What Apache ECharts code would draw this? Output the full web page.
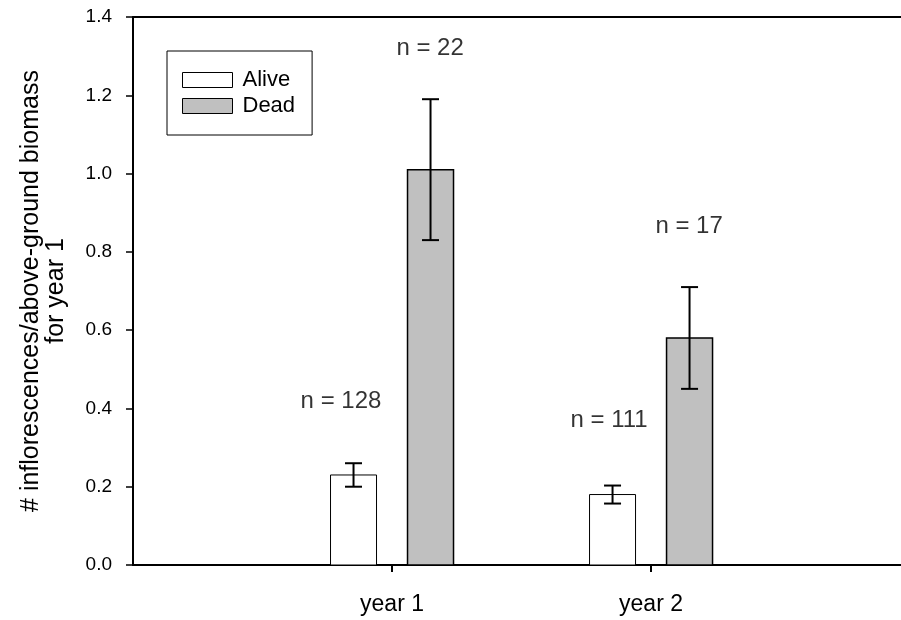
<!DOCTYPE html>
<html>
<head>
<meta charset="utf-8">
<script src="https://cdn.jsdelivr.net/npm/echarts@6/dist/echarts.min.js"></script>
<style>html,body{margin:0;padding:0;background:#fff}#c{width:901px;height:620px}</style>
</head>
<body>
<div id="c"></div>
<script>
var groupX = [1, 2];
var groupLabels = ['year 1', 'year 2'];
var aliveMean = [0.23, 0.18];
var aliveErr = [0.03, 0.023];
var deadMean = [1.01, 0.58];
var deadErr = [0.18, 0.13];
var nText = ['n = 128', 'n = 22', 'n = 111', 'n = 17'];
var nX = [0.803, 1.147, 1.838, 2.147];
var nY = [0.419, 1.32, 0.370, 0.864];
var yTicks = [0, 0.2, 0.4, 0.6, 0.8, 1.0, 1.2, 1.4];
var yTitle = '# inflorescences/above-ground biomass\nfor year 1';

var FONT = 'Liberation Sans, Arial, Helvetica, sans-serif';
var BAR_W = 46, OFFSET = 38.5, CAP = 17;
var DEAD_FILL = '#c0c0c0';

function makeRender(offset, fill, bw) {
  return function (params, api) {
    var x = api.value(0), m = api.value(1), e = api.value(2);
    var base = api.coord([x, 0]);
    var top = api.coord([x, m]);
    var hi = api.coord([x, m + e]);
    var lo = api.coord([x, m - e]);
    var cx = base[0] + offset;
    return {
      type: 'group',
      children: [
        {type: 'rect', shape: {x: cx - BAR_W / 2, y: top[1], width: BAR_W, height: base[1] - top[1]},
         style: {fill: fill, stroke: '#000', lineWidth: bw}},
        {type: 'line', shape: {x1: cx, y1: hi[1], x2: cx, y2: lo[1]}, style: {stroke: '#000', lineWidth: 2}},
        {type: 'line', shape: {x1: cx - CAP / 2, y1: hi[1], x2: cx + CAP / 2, y2: hi[1]}, style: {stroke: '#000', lineWidth: 2}},
        {type: 'line', shape: {x1: cx - CAP / 2, y1: lo[1], x2: cx + CAP / 2, y2: lo[1]}, style: {stroke: '#000', lineWidth: 2}}
      ]
    };
  };
}

var chart = echarts.init(document.getElementById('c'), null, {renderer: 'canvas'});
var xMax = 2.965;
chart.setOption({
  animation: false,
  backgroundColor: '#fff',
  grid: {left: 133, right: 0, top: 17, bottom: 55},
  graphic: [{
    type: 'text', x: 44, y: 291, rotation: Math.PI / 2,
    style: {text: yTitle, align: 'center', verticalAlign: 'middle',
      font: '25px ' + FONT, lineHeight: 25, fill: '#000'}
  }],
  legend: {
    orient: 'vertical', left: 167, top: 51,
    padding: [18, 17, 18, 15], itemGap: 4, itemWidth: 50, itemHeight: 15,
    borderColor: '#000', borderWidth: 1,
    textStyle: {fontFamily: FONT, fontSize: 22, lineHeight: 22, color: '#000', padding: [0, 0, 0, 5]},
    data: [
      {name: 'Alive', icon: 'rect', itemStyle: {color: '#fff', borderColor: '#000', borderWidth: 1}},
      {name: 'Dead', icon: 'rect', itemStyle: {color: DEAD_FILL, borderColor: '#000', borderWidth: 1}}
    ]
  },
  xAxis: [{
    type: 'value', min: 0, max: xMax, interval: 1,
    axisLine: {lineStyle: {color: '#000', width: 2}},
    axisTick: {show: true, length: 7, lineStyle: {color: '#000', width: 2}},
    splitLine: {show: false},
    axisLabel: {
      margin: 28, color: '#000', fontFamily: FONT, fontSize: 23,
      showMinLabel: false, showMaxLabel: false,
      formatter: function (v) { var i = groupX.indexOf(v); return i >= 0 ? groupLabels[i] : ''; }
    }
  }, {
    type: 'value', position: 'top', min: 0, max: xMax,
    axisLine: {show: true, lineStyle: {color: '#000', width: 2}},
    axisTick: {show: false}, axisLabel: {show: false}, splitLine: {show: false}
  }],
  yAxis: {
    type: 'value', min: yTicks[0], max: yTicks[yTicks.length - 1], interval: 0.2,
    axisLine: {show: true, lineStyle: {color: '#000', width: 2}},
    axisTick: {show: true, length: 7, lineStyle: {color: '#000', width: 1.5}},
    splitLine: {show: false},
    axisLabel: {margin: 21, color: '#000', fontFamily: FONT, fontSize: 19,
      formatter: function (v) { return v.toFixed(1); }}
  },
  series: [
    {
      name: 'Alive', type: 'custom', xAxisIndex: 0,
      itemStyle: {color: '#fff', borderColor: '#000'},
      renderItem: makeRender(-OFFSET, '#fff', 1),
      data: groupX.map(function (x, i) { return [x, aliveMean[i], aliveErr[i]]; })
    },
    {
      name: 'Dead', type: 'custom', xAxisIndex: 0,
      itemStyle: {color: DEAD_FILL, borderColor: '#000'},
      renderItem: makeRender(OFFSET, DEAD_FILL, 1.5),
      data: groupX.map(function (x, i) { return [x, deadMean[i], deadErr[i]]; })
    },
    {
      name: 'n', type: 'scatter', symbolSize: 0, silent: true,
      label: {show: true, position: 'inside', color: '#000', fontFamily: FONT, fontSize: 24,
        formatter: function (p) { return nText[p.dataIndex]; }},
      data: nX.map(function (x, i) { return [x, nY[i]]; })
    }
  ]
});
</script>
</body>
</html>
